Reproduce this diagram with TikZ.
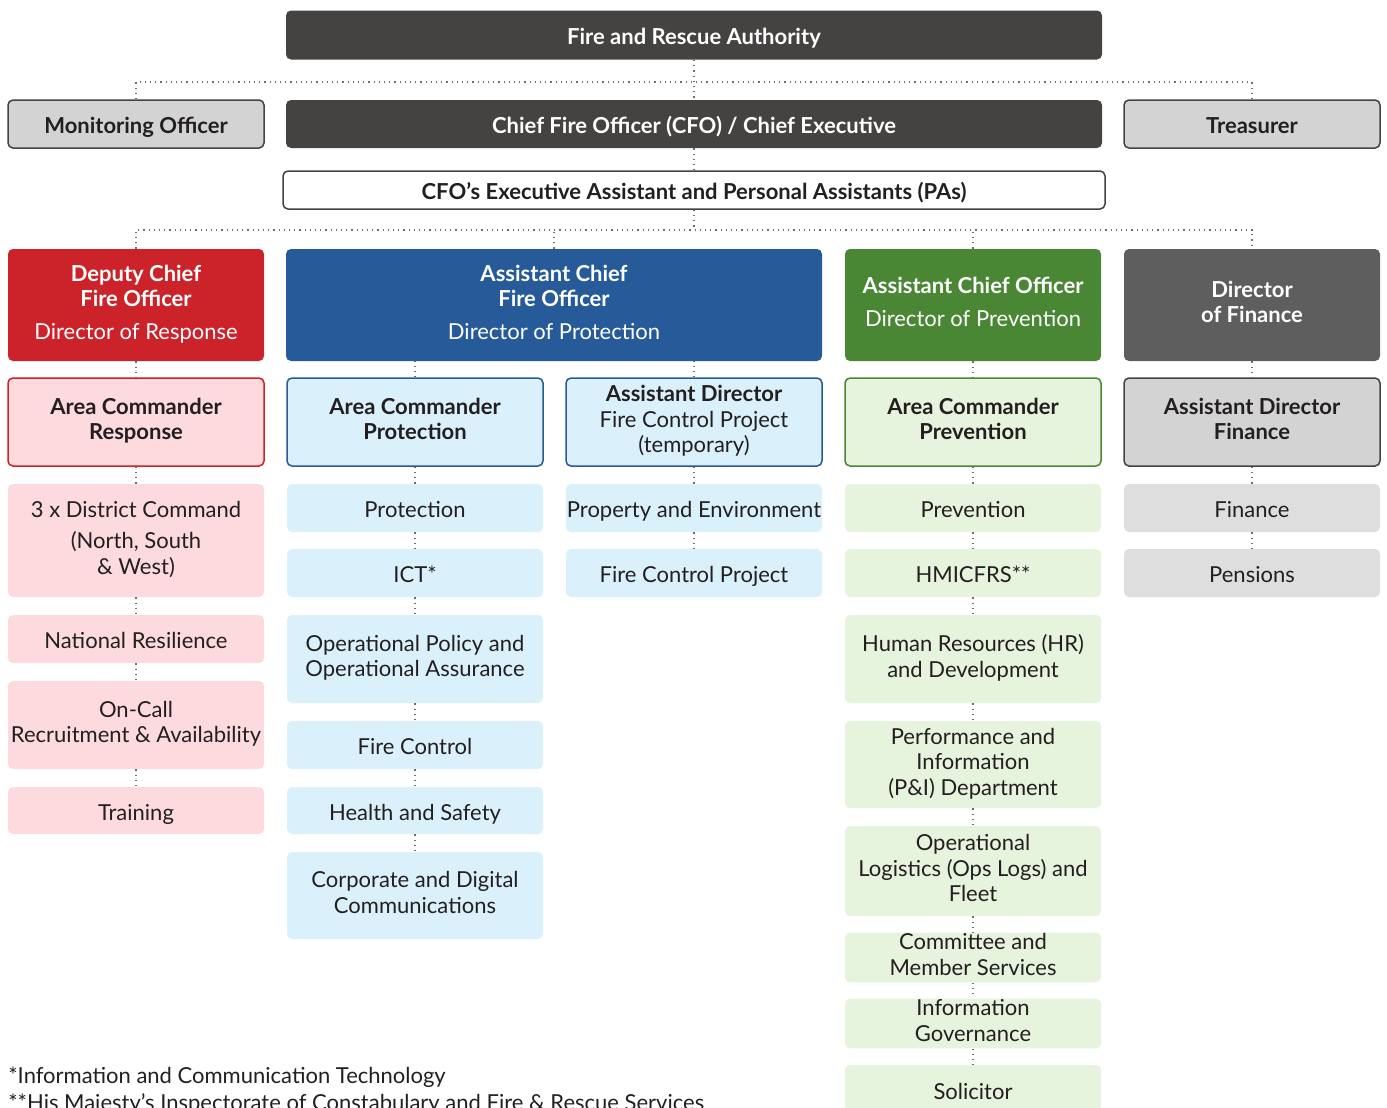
\documentclass[tikz,border=0pt]{standalone}
\usepackage{fontspec}
\setmainfont{Lato}
\definecolor{inkblack}{HTML}{231F20}
\definecolor{darkbox}{HTML}{454341}
\definecolor{firered}{HTML}{CC2229}
\definecolor{protblue}{HTML}{265A99}
\definecolor{prevgreen}{HTML}{4A8735}
\definecolor{fingray}{HTML}{5F5E5E}
\definecolor{midgray}{HTML}{D3D3D3}
\definecolor{palepink}{HTML}{FCDADE}
\definecolor{paleblue}{HTML}{DAF1FB}
\definecolor{palegreen}{HTML}{E6F3DD}
\definecolor{palegray}{HTML}{DEDEDE}
\definecolor{linegray}{HTML}{6D6D6D}
\newcommand\topstrut{\rule{0pt}{12.9pt}}
\newcommand\botstrut{\rule[-3pt]{0pt}{3pt}}
\newcommand\boxfont{\fontsize{11}{12.75}\selectfont}
\tikzset{
  box/.style={rounded corners=2.5pt, align=center, inner sep=0.5pt, minimum width=128pt,
    minimum height=24pt, text=inkblack, font=\boxfont,
    execute at begin node=\topstrut, execute at end node=\botstrut},
  boldbox/.style={box, font=\boxfont\bfseries},
  topbox/.style={boldbox, fill=darkbox, text=white, minimum width=408pt},
  sidebox/.style={boldbox, fill=midgray, draw=darkbox, line width=0.75pt},
  dirbox/.style={box, text=white, minimum height=56pt},
  headbox/.style={boldbox, line width=0.75pt, minimum height=44pt},
  footnote/.style={anchor=west, inner sep=0pt, text=inkblack, font=\boxfont},
  dotline/.style={dotted, line width=0.6pt, linegray},
}
\begin{document}
\begin{tikzpicture}[x=0.5pt,y=-0.5pt]
  \useasboundingbox (0,0) rectangle (1387,1108);

  % top of the authority
  \node[topbox, minimum height=24.5pt] (auth) at (694,35) {Fire and Rescue Authority};
  \node[sidebox] (mon) at (136,124) {Monitoring Officer};
  \node[topbox] (cfo) at (694,124) {Chief Fire Officer (CFO) / Chief Executive};
  \node[sidebox] (treas) at (1252,124) {Treasurer};
  \node[boldbox, draw=darkbox, line width=0.75pt, fill=white, minimum width=411pt, minimum height=19pt] (pa) at (694,190)
    {CFO’s Executive Assistant and Personal Assistants (PAs)};

  % directors
  \node[dirbox, fill=firered] (dcfo) at (136,305)
    {\textbf{Deputy Chief}\\\textbf{Fire Officer}\\[3.5pt]Director of Response};
  \node[dirbox, fill=protblue, minimum width=268pt] (acfo) at (554,305)
    {\textbf{Assistant Chief}\\\textbf{Fire Officer}\\[3.5pt]Director of Protection};
  \node[dirbox, fill=prevgreen] (aco) at (973,305)
    {\textbf{Assistant Chief Officer}\\[3.5pt]Director of Prevention};
  \node[dirbox, fill=fingray, font=\boxfont\bfseries] (dof) at (1252,305)
    {Director\\of Finance};

  % area commanders and assistant directors
  \node[headbox, fill=palepink, draw=firered] (acr) at (136,422) {Area Commander\\Response};
  \node[headbox, fill=paleblue, draw=protblue] (acp) at (415,422) {Area Commander\\Protection};
  \node[headbox, fill=paleblue, draw=protblue] (adfc) at (694,422)
    {Assistant Director\\\mdseries Fire Control Project\\\mdseries(temporary)};
  \node[headbox, fill=palegreen, draw=prevgreen] (acv) at (973,422) {Area Commander\\Prevention};
  \node[headbox, fill=midgray, draw=darkbox] (adf) at (1252,422) {Assistant Director\\Finance};

  % response
  \node[box, fill=palepink, minimum height=56.5pt] (dist) at (136,540.5)
    {3 x District Command\\[3pt](North, South\\\& West)};
  \node[box, fill=palepink] (natres) at (136,639) {National Resilience};
  \node[box, fill=palepink, minimum height=44pt] (oncall) at (136,725) {On-Call\\Recruitment \& Availability};
  \node[box, fill=palepink, minimum height=23.5pt] (train) at (136,810.5) {Training};

  % protection
  \node[box, fill=paleblue] (prot) at (415,508) {Protection};
  \node[box, fill=paleblue] (ict) at (415,573) {ICT*};
  \node[box, fill=paleblue, minimum height=44pt] (opol) at (415,659) {Operational Policy and\\Operational Assurance};
  \node[box, fill=paleblue] (fctl) at (415,745) {Fire Control};
  \node[box, fill=paleblue, minimum height=23.5pt] (hs) at (415,810.5) {Health and Safety};
  \node[box, fill=paleblue, minimum height=43.5pt] (corp) at (415,895.5) {Corporate and Digital\\Communications};
  \node[box, fill=paleblue] (prop) at (694,508) {Property and Environment};
  \node[box, fill=paleblue] (fcp) at (694,573) {Fire Control Project};

  % prevention
  \node[box, fill=palegreen] (prev) at (973,508) {Prevention};
  \node[box, fill=palegreen] (hmi) at (973,573) {HMICFRS**};
  \node[box, fill=palegreen, minimum height=44pt] (hr) at (973,659) {Human Resources (HR)\\and Development};
  \node[box, fill=palegreen, minimum height=43.5pt] (pandi) at (973,764.5) {Performance and\\Information\\(P\&I) Department};
  \node[box, fill=palegreen, minimum height=45pt] (opslog) at (973,871) {Operational\\Logistics (Ops Logs) and\\Fleet};
  \node[box, fill=palegreen, minimum height=24.5pt] (comm) at (973,957.5) {Committee and\\Member Services};
  \node[box, fill=palegreen, minimum height=24.5pt] (infgov) at (973,1023.5) {Information\\Governance};
  \node[box, fill=palegreen, minimum height=25pt] (sol) at (973,1090) {Solicitor};

  % finance
  \node[box, fill=palegray] (fin) at (1252,508) {Finance};
  \node[box, fill=palegray] (pens) at (1252,573) {Pensions};

  % footnotes
  \node[footnote] (note1) at (8,1077) {*Information and Communication Technology};
  \node[footnote] (note2) at (8,1104) {**His Majesty’s Inspectorate of Constabulary and Fire \& Rescue Services};

  % connectors
  \coordinate (bar1) at (694,82);
  \coordinate (bar2) at (694,230);
  \draw[dotline] (auth.south) -- (cfo.north);
  \draw[dotline] (mon.north) |- (bar1) -| (treas.north);
  \draw[dotline] (cfo.south) -- (pa.north);
  \draw[dotline] (pa.south) -- (bar2);
  \draw[dotline] (dcfo.north) |- (bar2) -| (dof.north);
  \draw[dotline] (acfo.north) -- (acfo.north |- bar2);
  \draw[dotline] (aco.north) -- (aco.north |- bar2);
  \draw[dotline] (acp.north) -- (acp.north |- acfo.south);
  \draw[dotline] (adfc.north) -- (adfc.north |- acfo.south);
  \foreach \a/\b in {dcfo/acr, acr/dist, dist/natres, natres/oncall, oncall/train,
      acp/prot, prot/ict, ict/opol, opol/fctl, fctl/hs, hs/corp,
      adfc/prop, prop/fcp,
      aco/acv, acv/prev, prev/hmi, hmi/hr, hr/pandi, pandi/opslog, opslog/comm, comm/infgov, infgov/sol,
      dof/adf, adf/fin, fin/pens}
    \draw[dotline] (\a.south) -- (\b.north);
\end{tikzpicture}
\end{document}
